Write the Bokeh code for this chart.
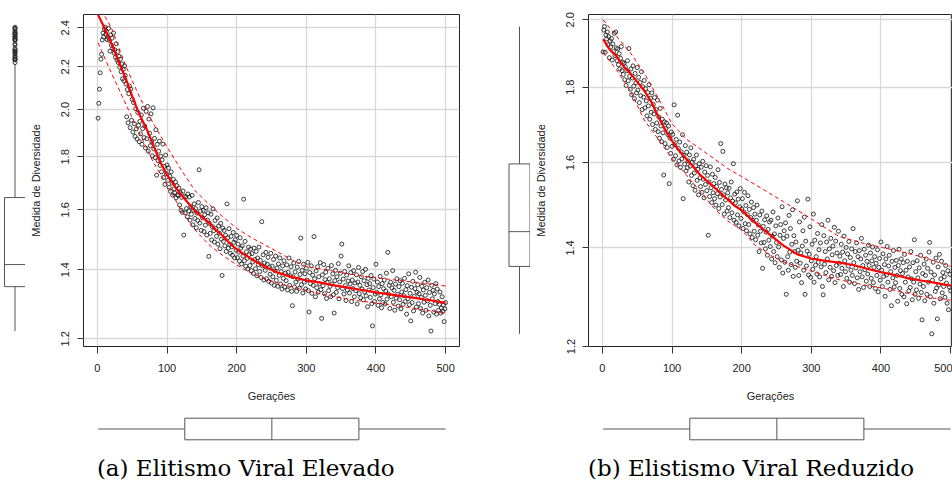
import numpy as np
from bokeh.plotting import figure
from bokeh.layouts import row, column
from bokeh.models import Range1d, FixedTicker, NumeralTickFormatter
from bokeh.embed import file_html
from bokeh.resources import INLINE
from bokeh.core.properties import value

# ---------------- data ----------------
x_label = "Gerações"
y_label = "Medida de Diversidade"
captions = ["(a) Elitismo Viral Elevado", "(b) Elistismo Viral Reduzido"]
x_ticks = [0, 100, 200, 300, 400, 500]
y_ticks_a = [1.2, 1.4, 1.6, 1.8, 2.0, 2.2, 2.4]
y_ticks_b = [1.2, 1.4, 1.6, 1.8, 2.0]

div_a = [
    1.962, 2.028, 2.093, 2.171, 2.238, 2.262, 2.336, 2.372, 2.351, 2.392,
    2.403, 2.365, 2.381, 2.338, 2.352, 2.397, 2.334, 2.278, 2.362, 2.309,
    2.345, 2.291, 2.372, 2.268, 2.285, 2.247, 2.316, 2.234, 2.276, 2.221,
    2.252, 2.198, 2.238, 2.176, 2.214, 2.142, 2.187, 2.133, 2.205, 2.158,
    2.117, 1.968, 2.091, 1.942, 2.072, 2.108, 1.921, 2.093, 1.953, 2.046,
    1.902, 2.031, 1.938, 1.884, 2.004, 1.916, 1.873, 1.987, 1.931, 1.862,
    1.948, 1.895, 1.976, 1.851, 1.917, 2.006, 1.879, 1.928, 1.836, 1.992,
    1.874, 2.014, 1.823, 1.958, 1.897, 1.845, 1.981, 1.862, 1.804, 2.008,
    1.832, 1.876, 1.797, 1.912, 1.728, 1.851, 1.785, 1.823, 1.864, 1.766,
    1.803, 1.741, 1.788, 1.852, 1.719, 1.762, 1.693, 1.807, 1.734, 1.768,
    1.708, 1.756, 1.682, 1.724, 1.667, 1.741, 1.698, 1.653, 1.712, 1.676,
    1.661, 1.702, 1.643, 1.688, 1.654, 1.651, 1.679, 1.617, 1.662, 1.598,
    1.645, 1.591, 1.668, 1.512, 1.649, 1.589, 1.646, 1.604, 1.575, 1.657,
    1.596, 1.646, 1.563, 1.611, 1.584, 1.652, 1.547, 1.598, 1.621, 1.569,
    1.604, 1.537, 1.588, 1.562, 1.626, 1.749, 1.553, 1.595, 1.528, 1.611,
    1.571, 1.598, 1.524, 1.582, 1.546, 1.607, 1.512, 1.563, 1.589, 1.442,
    1.552, 1.518, 1.584, 1.496, 1.541, 1.603, 1.527, 1.489, 1.562, 1.534,
    1.508, 1.571, 1.482, 1.543, 1.519, 1.467, 1.552, 1.498, 1.382, 1.536,
    1.491, 1.528, 1.476, 1.512, 1.458, 1.621, 1.503, 1.469, 1.534, 1.481,
    1.452, 1.508, 1.473, 1.446, 1.521, 1.488, 1.437, 1.496, 1.462, 1.511,
    1.438, 1.482, 1.456, 1.427, 1.503, 1.469, 1.418, 1.476, 1.443, 1.638,
    1.428, 1.491, 1.411, 1.457, 1.436, 1.402, 1.472, 1.448, 1.413, 1.466,
    1.397, 1.451, 1.424, 1.388, 1.469, 1.432, 1.403, 1.458, 1.381, 1.437,
    1.416, 1.472, 1.394, 1.429, 1.376, 1.558, 1.412, 1.447, 1.368, 1.421,
    1.398, 1.455, 1.372, 1.417, 1.439, 1.364, 1.408, 1.386, 1.452, 1.359,
    1.411, 1.378, 1.432, 1.352, 1.396, 1.443, 1.367, 1.405, 1.349, 1.418,
    1.382, 1.437, 1.356, 1.394, 1.341, 1.412, 1.373, 1.428, 1.347, 1.389,
    1.366, 1.415, 1.338, 1.392, 1.437, 1.352, 1.381, 1.409, 1.334, 1.292,
    1.378, 1.421, 1.347, 1.393, 1.362, 1.334, 1.408, 1.371, 1.426, 1.343,
    1.385, 1.502, 1.354, 1.398, 1.329, 1.417, 1.362, 1.387, 1.341, 1.404,
    1.368, 1.423, 1.336, 1.274, 1.391, 1.357, 1.412, 1.328, 1.383, 1.352,
    1.507, 1.372, 1.318, 1.396, 1.345, 1.409, 1.331, 1.378, 1.357, 1.422,
    1.339, 1.256, 1.384, 1.351, 1.416, 1.327, 1.369, 1.392, 1.313, 1.361,
    1.404, 1.336, 1.372, 1.349, 1.318, 1.413, 1.356, 1.387, 1.324, 1.271,
    1.366, 1.398, 1.331, 1.378, 1.345, 1.419, 1.312, 1.362, 1.389, 1.443,
    1.482, 1.342, 1.371, 1.326, 1.394, 1.351, 1.307, 1.383, 1.338, 1.365,
    1.412, 1.329, 1.356, 1.391, 1.304, 1.368, 1.342, 1.397, 1.318, 1.359,
    1.336, 1.384, 1.297, 1.362, 1.407, 1.327, 1.352, 1.315, 1.378, 1.341,
    1.394, 1.309, 1.366, 1.332, 1.401, 1.321, 1.354, 1.289, 1.373, 1.338,
    1.357, 1.316, 1.382, 1.298, 1.235, 1.345, 1.371, 1.304, 1.326, 1.417,
    1.331, 1.362, 1.293, 1.348, 1.312, 1.379, 1.323, 1.286, 1.357, 1.301,
    1.342, 1.368, 1.297, 1.335, 1.389, 1.311, 1.455, 1.326, 1.352, 1.284,
    1.361, 1.318, 1.344, 1.397, 1.302, 1.337, 1.279, 1.356, 1.314, 1.372,
    1.325, 1.291, 1.348, 1.309, 1.366, 1.283, 1.332, 1.358, 1.296, 1.321,
    1.373, 1.304, 1.339, 1.268, 1.351, 1.312, 1.387, 1.295, 1.328, 1.249,
    1.346, 1.301, 1.364, 1.277, 1.319, 1.342, 1.392, 1.288, 1.331, 1.354,
    1.298, 1.327, 1.376, 1.284, 1.316, 1.349, 1.271, 1.338, 1.302, 1.361,
    1.322, 1.279, 1.345, 1.306, 1.368, 1.263, 1.331, 1.293, 1.221, 1.352,
    1.312, 1.337, 1.274, 1.326, 1.298, 1.357, 1.268, 1.341, 1.304, 1.279,
    1.296, 1.332, 1.271, 1.285, 1.318, 1.276, 1.294, 1.247, 1.283, 1.301,
]

div_b = [
    1.902, 1.968, 1.979, 1.901, 1.953, 1.941, 1.962, 1.923, 1.948, 1.885,
    1.935, 1.917, 1.942, 1.878, 1.926, 1.903, 1.958, 1.891, 1.962, 1.914,
    1.876, 1.911, 1.864, 1.897, 1.852, 1.883, 1.918, 1.847, 1.872, 1.836,
    1.869, 1.821, 1.858, 1.805, 1.847, 1.876, 1.818, 1.912, 1.831, 1.794,
    1.852, 1.779, 1.826, 1.861, 1.803, 1.768, 1.839, 1.812, 1.784, 1.856,
    1.792, 1.828, 1.757, 1.813, 1.776, 1.844, 1.738, 1.801, 1.772, 1.819,
    1.743, 1.796, 1.762, 1.721, 1.785, 1.748, 1.807, 1.712, 1.769, 1.731,
    1.784, 1.698, 1.752, 1.726, 1.771, 1.685, 1.738, 1.702, 1.764, 1.679,
    1.718, 1.662, 1.741, 1.694, 1.653, 1.712, 1.676, 1.569, 1.705, 1.648,
    1.687, 1.702, 1.638, 1.671, 1.694, 1.548, 1.662, 1.623, 1.678, 1.641,
    1.672, 1.608, 1.751, 1.645, 1.617, 1.659, 1.594, 1.723, 1.636, 1.604,
    1.652, 1.588, 1.627, 1.609, 1.671, 1.512, 1.618, 1.596, 1.643, 1.579,
    1.626, 1.587, 1.604, 1.552, 1.619, 1.591, 1.637, 1.568, 1.601, 1.543,
    1.608, 1.574, 1.532, 1.592, 1.619, 1.556, 1.583, 1.521, 1.597, 1.562,
    1.541, 1.588, 1.527, 1.603, 1.559, 1.514, 1.576, 1.546, 1.592, 1.531,
    1.568, 1.428, 1.552, 1.517, 1.589, 1.538, 1.503, 1.571, 1.526, 1.548,
    1.512, 1.563, 1.497, 1.541, 1.524, 1.582, 1.489, 1.551, 1.516, 1.648,
    1.534, 1.498, 1.628, 1.521, 1.476, 1.547, 1.509, 1.538, 1.483, 1.526,
    1.491, 1.537, 1.468, 1.514, 1.552, 1.479, 1.506, 1.597, 1.462, 1.523,
    1.502, 1.457, 1.528, 1.474, 1.511, 1.449, 1.493, 1.536, 1.466, 1.488,
    1.512, 1.443, 1.481, 1.527, 1.454, 1.496, 1.438, 1.475, 1.519, 1.452,
    1.487, 1.431, 1.468, 1.504, 1.423, 1.462, 1.491, 1.437, 1.476, 1.418,
    1.462, 1.497, 1.428, 1.451, 1.392, 1.474, 1.437, 1.411, 1.483, 1.356,
    1.448, 1.412, 1.463, 1.398, 1.435, 1.472, 1.384, 1.441, 1.417, 1.458,
    1.403, 1.462, 1.376, 1.426, 1.481, 1.392, 1.431, 1.368, 1.449, 1.412,
    1.381, 1.467, 1.402, 1.358, 1.428, 1.452, 1.374, 1.493, 1.346, 1.421,
    1.438, 1.369, 1.456, 1.302, 1.426, 1.381, 1.352, 1.473, 1.391, 1.443,
    1.364, 1.408, 1.486, 1.339, 1.427, 1.392, 1.358, 1.413, 1.371, 1.507,
    1.395, 1.341, 1.458, 1.367, 1.389, 1.326, 1.404, 1.438, 1.352, 1.469,
    1.302, 1.415, 1.361, 1.393, 1.511, 1.342, 1.386, 1.447, 1.337, 1.372,
    1.408, 1.354, 1.476, 1.327, 1.417, 1.363, 1.381, 1.344, 1.432, 1.369,
    1.396, 1.338, 1.411, 1.359, 1.452, 1.318, 1.301, 1.427, 1.365, 1.392,
    1.347, 1.413, 1.376, 1.462, 1.332, 1.398, 1.358, 1.421, 1.339, 1.385,
    1.404, 1.351, 1.446, 1.326, 1.415, 1.362, 1.389, 1.341, 1.437, 1.367,
    1.382, 1.343, 1.408, 1.356, 1.391, 1.318, 1.426, 1.372, 1.349, 1.401,
    1.335, 1.387, 1.361, 1.414, 1.327, 1.379, 1.352, 1.398, 1.341, 1.443,
    1.368, 1.324, 1.392, 1.357, 1.411, 1.336, 1.381, 1.312, 1.394, 1.349,
    1.376, 1.421, 1.338, 1.362, 1.316, 1.397, 1.353, 1.384, 1.329, 1.371,
    1.344, 1.406, 1.362, 1.318, 1.389, 1.335, 1.372, 1.402, 1.326, 1.358,
    1.381, 1.314, 1.367, 1.341, 1.396, 1.307, 1.358, 1.377, 1.331, 1.413,
    1.352, 1.318, 1.387, 1.339, 1.364, 1.298, 1.376, 1.342, 1.403, 1.327,
    1.361, 1.384, 1.312, 1.349, 1.279, 1.371, 1.336, 1.394, 1.317, 1.358,
    1.326, 1.373, 1.341, 1.288, 1.362, 1.397, 1.314, 1.351, 1.376, 1.302,
    1.345, 1.368, 1.297, 1.386, 1.327, 1.352, 1.283, 1.371, 1.338, 1.309,
    1.359, 1.316, 1.392, 1.334, 1.291, 1.368, 1.327, 1.418, 1.302, 1.349,
    1.311, 1.372, 1.336, 1.294, 1.357, 1.323, 1.384, 1.306, 1.251, 1.345,
    1.318, 1.365, 1.289, 1.341, 1.376, 1.302, 1.356, 1.327, 1.391, 1.412,
    1.297, 1.348, 1.224, 1.331, 1.369, 1.284, 1.342, 1.308, 1.378, 1.315,
    1.253, 1.359, 1.321, 1.386, 1.293, 1.334, 1.371, 1.305, 1.347, 1.318,
    1.338, 1.296, 1.362, 1.325, 1.284, 1.351, 1.271, 1.317, 1.343, 1.309,
]

gen_a = list(range(1, len(div_a) + 1))
gen_b = list(range(1, len(div_b) + 1))

# smoothed trend (solid red) and spread curves (dashed red)
smooth_x = [1, 10, 20, 30, 40, 50, 60, 70, 80, 90, 100, 110, 120, 130, 140, 150,
            160, 170, 180, 190, 200, 220, 240, 260, 280, 300, 320, 340, 360, 380,
            400, 420, 440, 460, 480, 500]
smooth_a = [2.47, 2.40, 2.32, 2.23, 2.15, 2.06, 1.98, 1.92, 1.85, 1.78, 1.73, 1.69,
            1.655, 1.625, 1.595, 1.575, 1.555, 1.53, 1.51, 1.485, 1.465, 1.435, 1.41,
            1.39, 1.377, 1.367, 1.36, 1.352, 1.345, 1.338, 1.331, 1.325, 1.319, 1.313,
            1.307, 1.30]
smooth_b = [1.94, 1.91, 1.89, 1.86, 1.84, 1.815, 1.79, 1.76, 1.72, 1.685, 1.655, 1.63,
            1.61, 1.59, 1.57, 1.555, 1.54, 1.525, 1.51, 1.495, 1.485, 1.455, 1.43,
            1.405, 1.386, 1.377, 1.372, 1.368, 1.363, 1.355, 1.348, 1.342, 1.335, 1.33,
            1.325, 1.32]
spread_x = [1, 20, 40, 60, 80, 100, 120, 140, 160, 180, 200, 220, 240, 260, 280, 300,
            340, 380, 420, 460, 500]
upper_a = [2.53, 2.40, 2.21, 2.06, 1.94, 1.84, 1.75, 1.67, 1.62, 1.575, 1.535, 1.505,
           1.48, 1.455, 1.43, 1.41, 1.395, 1.38, 1.37, 1.36, 1.35]
lower_a = [2.32, 2.17, 2.03, 1.90, 1.78, 1.69, 1.60, 1.53, 1.48, 1.445, 1.415, 1.39,
           1.372, 1.358, 1.347, 1.337, 1.318, 1.305, 1.295, 1.283, 1.27]
upper_b = [2.00, 1.95, 1.90, 1.84, 1.77, 1.70, 1.66, 1.635, 1.61, 1.585, 1.565, 1.545,
           1.525, 1.505, 1.485, 1.465, 1.425, 1.408, 1.395, 1.38, 1.36]
lower_b = [1.90, 1.85, 1.79, 1.71, 1.66, 1.61, 1.57, 1.53, 1.49, 1.46, 1.44, 1.405,
           1.385, 1.37, 1.36, 1.35, 1.332, 1.32, 1.31, 1.297, 1.29]

# ---------------- layout / style constants (page pixels) ----------------
X_LO, X_HI = -20, 520
FRAME_W = 376
PX_PER_X = FRAME_W / (X_HI - X_LO)
TOP_H = 411
BOT_H = 69
BORDER_TOP = 14
BORDER_BOTTOM = 65
AXIS_BORDER = 58
TEXT_FONT = "Liberation Sans"
TEXT_COL = "#222222"
BOX_COL = "#555555"
PT_COL = "#262626"
PT_SIZE = 4.0


def x_at(px, frame_left):
    return X_LO + (px - frame_left) / PX_PER_X


def fivenum(v):
    v = np.sort(np.asarray(v, dtype=float))
    n = len(v)
    n4 = np.floor((n + 3) / 2) / 2
    d = np.array([1, n4, (n + 1) / 2, n + 1 - n4, n]) - 1
    return 0.5 * (v[np.floor(d).astype(int)] + v[np.ceil(d).astype(int)])


def box_stats(v, log=False):
    w = np.log(np.asarray(v, float)) if log else np.asarray(v, float)
    s = fivenum(w)
    iqr = s[3] - s[1]
    lo_f, hi_f = s[1] - 1.5 * iqr, s[3] + 1.5 * iqr
    inside = w[(w >= lo_f) & (w <= hi_f)]
    out = w[(w < lo_f) | (w > hi_f)]
    tr = np.exp if log else (lambda z: z)
    return dict(q1=float(tr(s[1])), med=float(tr(s[2])), q3=float(tr(s[3])),
                lo=float(tr(inside.min())), hi=float(tr(inside.max())),
                out=list(tr(out)))


def scatter_panel(gens, ys, yr, yticks, smooth, upper, lower, col_right, frame_left):
    fig_left = frame_left - AXIS_BORDER
    width = col_right - fig_left
    frame_w = min(FRAME_W, width - AXIS_BORDER)
    border_r = width - AXIS_BORDER - frame_w
    p = figure(width=width, height=TOP_H,
               x_range=Range1d(X_LO, x_at(frame_left + frame_w, frame_left)),
               y_range=Range1d(*yr), y_axis_type="log",
               min_border_left=AXIS_BORDER, min_border_right=border_r,
               min_border_top=BORDER_TOP, min_border_bottom=BORDER_BOTTOM,
               output_backend="svg", toolbar_location=None,
               background_fill_color="white", border_fill_color="white",
               outline_line_color="#222222", outline_line_width=1,
               x_axis_label=x_label, y_axis_label=y_label)
    p.xaxis.ticker = FixedTicker(ticks=x_ticks)
    p.yaxis.ticker = FixedTicker(ticks=yticks)
    p.yaxis.formatter = NumeralTickFormatter(format="0.0")
    for ax in p.axis:
        ax.axis_line_color = None
        ax.major_tick_line_color = "#333333"
        ax.major_tick_in = 0
        ax.minor_tick_line_color = None
        ax.major_label_text_font = TEXT_FONT
        ax.major_label_text_font_size = "11px"
        ax.major_label_text_color = TEXT_COL
        ax.axis_label_text_font = TEXT_FONT
        ax.axis_label_text_font_size = "11px"
        ax.axis_label_text_font_style = "normal"
        ax.axis_label_text_color = TEXT_COL
    p.xaxis.major_tick_out = 7
    p.yaxis.major_tick_out = 6
    p.xaxis.major_label_standoff = 10
    p.yaxis.major_label_standoff = 8
    p.xaxis.axis_label_standoff = 15
    p.yaxis.axis_label_standoff = 17
    p.yaxis.major_label_orientation = "vertical"
    p.grid.grid_line_color = "#d9d9d9"
    p.grid.grid_line_width = 1.3

    p.scatter(gens, ys, marker="circle", size=PT_SIZE, fill_color=None,
              line_color=PT_COL, line_width=0.9)
    p.line(smooth_x, smooth, line_color="red", line_width=2.2)
    p.line(spread_x, upper, line_color="red", line_width=1, line_dash="4 3")
    p.line(spread_x, lower, line_color="red", line_width=1, line_dash="4 3")
    return p


def vbox_panel(ys, p, width, cx, hw):
    v = figure(width=width, height=TOP_H, x_range=Range1d(0, width), y_range=p.y_range,
               y_axis_type="log", x_axis_location=None, y_axis_location=None,
               min_border_left=0, min_border_right=0,
               min_border_top=BORDER_TOP, min_border_bottom=BORDER_BOTTOM,
               outline_line_color=None, output_backend="svg", toolbar_location=None,
               background_fill_color="white", border_fill_color="white")
    v.grid.visible = False
    s = box_stats(ys, log=True)
    v.segment(x0=[cx, cx], y0=[s["q3"], s["q1"]], x1=[cx, cx], y1=[s["hi"], s["lo"]],
              line_color=BOX_COL, line_width=1)
    v.quad(left=[cx - hw], right=[cx + hw], bottom=[s["q1"]], top=[s["q3"]],
           fill_color="white", line_color=BOX_COL, line_width=1)
    v.segment(x0=[cx - hw], x1=[cx + hw], y0=[s["med"]], y1=[s["med"]],
              line_color=BOX_COL, line_width=1)
    if s["out"]:
        v.scatter([cx] * len(s["out"]), s["out"], marker="circle", size=PT_SIZE,
                  fill_color=None, line_color=PT_COL, line_width=0.9)
    return v


def bottom_panel(gens, width, col_left, frame_left, caption, caption_px):
    b = figure(width=width, height=BOT_H,
               x_range=Range1d(x_at(col_left, frame_left), x_at(col_left + width, frame_left)),
               y_range=Range1d(BOT_H, 0), x_axis_location=None, y_axis_location=None,
               min_border=0, outline_line_color=None, output_backend="svg",
               toolbar_location=None, background_fill_color="white",
               border_fill_color="white")
    b.grid.visible = False
    s = box_stats(gens)
    box_top, box_bot = 6.7, 28.3
    mid = (box_top + box_bot) / 2
    b.segment(x0=[s["lo"], s["q3"]], x1=[s["q1"], s["hi"]], y0=[mid, mid], y1=[mid, mid],
              line_color=BOX_COL, line_width=1)
    b.quad(left=[s["q1"]], right=[s["q3"]], top=[box_top], bottom=[box_bot],
           fill_color="white", line_color=BOX_COL, line_width=1)
    b.segment(x0=[s["med"]], x1=[s["med"]], y0=[box_top], y1=[box_bot],
              line_color=BOX_COL, line_width=1)
    b.text(x=[x_at(caption_px, frame_left)], y=[56], text=[caption],
           text_align="center", text_baseline="alphabetic",
           text_font=value("DejaVu Serif"), text_font_size="23px", text_color="black")
    return b


# panel (a): page columns 0..476, plot frame left edge at page x 83
FRAME_A = 83
sa = scatter_panel(gen_a, div_a, (1.1797, 2.472), y_ticks_a, smooth_a, upper_a, lower_a,
                   col_right=476, frame_left=FRAME_A)
va = vbox_panel(div_a, sa, width=FRAME_A - AXIS_BORDER, cx=14.5, hw=10.5)
ba = bottom_panel(gen_a, width=476, col_left=0, frame_left=FRAME_A,
                  caption=captions[0], caption_px=245.3)

# panel (b): page columns 476..952, plot frame left edge at page x 588
FRAME_B = 588
sb = scatter_panel(gen_b, div_b, (1.2, 2.0166), y_ticks_b, smooth_b, upper_b, lower_b,
                   col_right=952, frame_left=FRAME_B)
vb = vbox_panel(div_b, sb, width=FRAME_B - AXIS_BORDER - 476, cx=43, hw=10.5)
bb = bottom_panel(gen_b, width=476, col_left=476, frame_left=FRAME_B,
                  caption=captions[1], caption_px=750.5)

layout = row(column(row(va, sa), ba), column(row(vb, sb), bb))

open("out.html", "w").write(file_html(layout, INLINE, title="Medida de Diversidade"))
